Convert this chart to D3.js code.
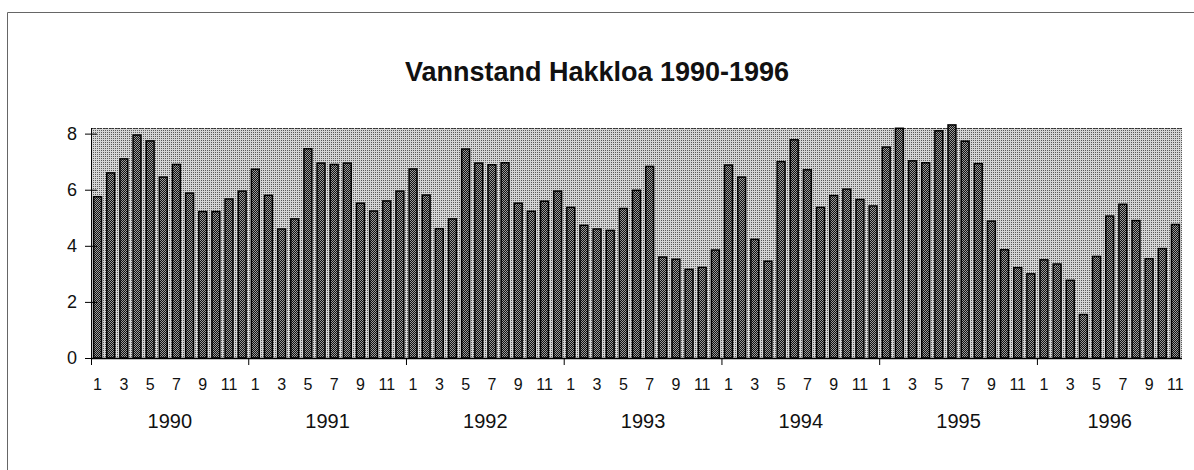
<!DOCTYPE html>
<html>
<head>
<meta charset="utf-8">
<script src="https://cdn.jsdelivr.net/npm/d3@7"></script>
<style>
  body { margin: 0; background: #fff; }
  svg text { font-family: "Liberation Sans", Arial, sans-serif; fill: #111; }
</style>
</head>
<body>
<div class="chart_area"></div>
<script>
var years = ["1990", "1991", "1992", "1993", "1994", "1995", "1996"];
var monthTicks = [1, 3, 5, 7, 9, 11];
var yTicks = [0, 2, 4, 6, 8];

// monthly water level, one array per year (1996 ends in November)
var v1990 = [5.75, 6.6, 7.1, 7.95, 7.74, 6.45, 6.9, 5.88, 5.22, 5.22, 5.67, 5.95];
var v1991 = [6.73, 5.8, 4.6, 4.96, 7.46, 6.95, 6.9, 6.95, 5.52, 5.24, 5.6, 5.95];
var v1992 = [6.74, 5.81, 4.61, 4.96, 7.45, 6.95, 6.89, 6.96, 5.52, 5.23, 5.59, 5.95];
var v1993 = [5.37, 4.73, 4.6, 4.55, 5.33, 5.98, 6.83, 3.6, 3.52, 3.16, 3.23, 3.85];
var v1994 = [6.88, 6.45, 4.23, 3.45, 7.0, 7.78, 6.71, 5.37, 5.79, 6.02, 5.65, 5.42];
var v1995 = [7.52, 8.19, 7.03, 6.96, 8.1, 8.31, 7.73, 6.93, 4.88, 3.86, 3.22, 3.0];
var v1996 = [3.5, 3.35, 2.77, 1.55, 3.62, 5.06, 5.48, 4.9, 3.54, 3.9, 4.76];

var levels = [v1990, v1991, v1992, v1993, v1994, v1995, v1996];

var data = [];
levels.forEach(function(arr, yi) {
    arr.forEach(function(v, mi) {
        data.push({ year: years[yi], month: mi + 1, value: v, idx: data.length });
    });
});

var W = 1194, H = 470;
var margin = { top: 128, left: 91, right: 12, bottom: 112 };
var width = W - margin.left - margin.right,
    height = H - margin.top - margin.bottom;

var svg = d3.select(".chart_area")
    .append("svg")
    .attr("width", W)
    .attr("height", H);

var defs = svg.append("defs");
var bgPat = defs.append("pattern")
    .attr("id", "bgdots").attr("width", 2).attr("height", 2)
    .attr("patternUnits", "userSpaceOnUse");
bgPat.append("rect").attr("width", 2).attr("height", 2).attr("fill", "#d6d6d6");
bgPat.append("rect").attr("width", 1).attr("height", 1).attr("fill", "#5a5a5a");

var barPat = defs.append("pattern")
    .attr("id", "bardots").attr("width", 2).attr("height", 2)
    .attr("patternUnits", "userSpaceOnUse");
barPat.append("rect").attr("width", 2).attr("height", 2).attr("fill", "#9a9a9a");
barPat.append("rect").attr("width", 1).attr("height", 1).attr("fill", "#111");
barPat.append("rect").attr("x", 1).attr("y", 1).attr("width", 1).attr("height", 1).attr("fill", "#111");

// outer frame
svg.append("path")
    .attr("d", "M7.5," + H + "V12.5H" + W)
    .attr("fill", "none")
    .attr("stroke", "#666")
    .attr("stroke-width", 1);

svg.append("text")
    .attr("x", 597).attr("y", 81)
    .attr("text-anchor", "middle")
    .style("font-size", "27px")
    .style("font-weight", "bold")
    .text("Vannstand Hakkloa 1990-1996");

var g = svg.append("g")
    .attr("transform", "translate(" + margin.left + "," + margin.top + ")");

var x = d3.scaleBand()
    .domain(data.map(function(d) { return d.idx; }))
    .range([0, width])
    .paddingInner(0.4)
    .paddingOuter(0.2);

var y = d3.scaleLinear()
    .domain([0, 8.2])
    .range([height, 0]);

g.append("rect")
    .attr("width", width)
    .attr("height", height)
    .attr("fill", "url(#bgdots)");

g.append("line")
    .attr("x1", 0).attr("x2", width)
    .attr("y1", 0.5).attr("y2", 0.5)
    .attr("stroke", "#333")
    .attr("stroke-dasharray", "2,1");

g.append("g")
    .selectAll("rect")
    .data(data)
    .enter()
    .append("rect")
    .attr("x", function(d) { return x(d.idx); })
    .attr("width", x.bandwidth())
    .attr("y", function(d) { return y(d.value); })
    .attr("height", function(d) { return y(0) - y(d.value); })
    .attr("fill", "url(#bardots)")
    .attr("stroke", "#000")
    .attr("stroke-width", 1.5);

// y axis
var yAxis = g.append("g");
yAxis.append("line")
    .attr("x1", 0.5).attr("x2", 0.5)
    .attr("y1", 0).attr("y2", height)
    .attr("stroke", "#000");
yAxis.selectAll(".yt")
    .data(yTicks)
    .enter()
    .append("line")
    .attr("x1", -6).attr("x2", 6)
    .attr("y1", function(d) { return y(d) + 0.5; })
    .attr("y2", function(d) { return y(d) + 0.5; })
    .attr("stroke", "#000");
yAxis.selectAll(".yl")
    .data(yTicks)
    .enter()
    .append("text")
    .attr("x", -14)
    .attr("y", function(d) { return y(d); })
    .attr("dy", "0.36em")
    .attr("text-anchor", "end")
    .style("font-size", "18px")
    .text(function(d) { return d; });

// x axis
var step = x.step();
g.append("line")
    .attr("x1", 0).attr("x2", width)
    .attr("y1", height + 0.5).attr("y2", height + 0.5)
    .attr("stroke", "#000")
    .attr("stroke-width", 1.5);

function yearStart(i) {
    var first = data.filter(function(d) { return d.year === years[i]; })[0];
    return x(first.idx) - x.paddingInner() * step / 2;
}
function yearEnd(i) {
    var arr = data.filter(function(d) { return d.year === years[i]; });
    var last = arr[arr.length - 1];
    return x(last.idx) + x.bandwidth() + x.paddingInner() * step / 2;
}

g.selectAll(".xt")
    .data(years)
    .enter()
    .append("line")
    .attr("x1", function(d, i) { return i === 0 ? 0.5 : yearStart(i); })
    .attr("x2", function(d, i) { return i === 0 ? 0.5 : yearStart(i); })
    .attr("y1", height)
    .attr("y2", height + 7)
    .attr("stroke", "#000");

g.selectAll(".ml")
    .data(data.filter(function(d) { return monthTicks.indexOf(d.month) >= 0; }))
    .enter()
    .append("text")
    .attr("x", function(d) { return x(d.idx) + x.bandwidth() / 2; })
    .attr("y", height + 32)
    .attr("text-anchor", "middle")
    .style("font-size", "16px")
    .text(function(d) { return d.month; });

g.selectAll(".yr")
    .data(years)
    .enter()
    .append("text")
    .attr("x", function(d, i) { return ((i === 0 ? 0 : yearStart(i)) + yearEnd(i)) / 2; })
    .attr("y", height + 70)
    .attr("text-anchor", "middle")
    .style("font-size", "20px")
    .text(function(d) { return d; });
</script>
</body>
</html>
